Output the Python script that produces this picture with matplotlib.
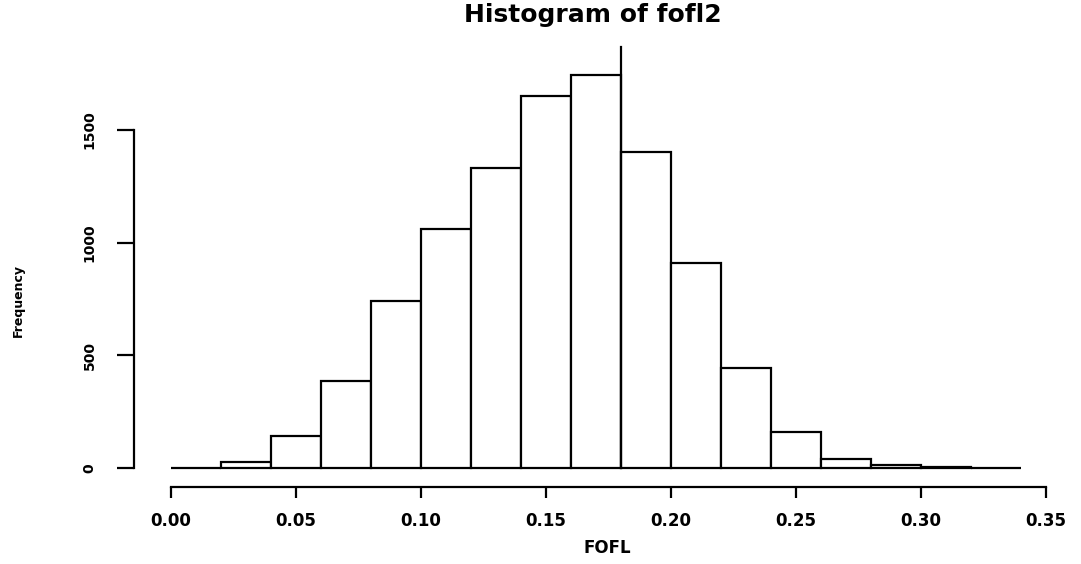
import numpy as np
import matplotlib
matplotlib.use("Agg")
import matplotlib.pyplot as plt

# histogram bins (0.02 wide) and counts
bin_edges = [0.00, 0.02, 0.04, 0.06, 0.08, 0.10, 0.12, 0.14, 0.16, 0.18,
             0.20, 0.22, 0.24, 0.26, 0.28, 0.30, 0.32, 0.34]
counts = [1, 28, 142, 385, 740, 1061, 1333, 1651, 1744, 1401,
          908, 444, 161, 38, 12, 3, 1]
x_ticks = [0.00, 0.05, 0.10, 0.15, 0.20, 0.25, 0.30, 0.35]
x_ticklabels = ["0.00", "0.05", "0.10", "0.15", "0.20", "0.25", "0.30", "0.35"]
y_ticks = [0, 500, 1000, 1500]
y_ticklabels = ["0", "500", "1000", "1500"]
# stray vertical stroke at the 0.18 bin edge
stroke_x = 0.18
stroke_top = 1869

fig = plt.figure(figsize=(10.81, 5.64), dpi=100)
ax = fig.add_axes([0.1388, 0.1702, 0.8418, 0.7589])

edges = np.array(bin_edges)
ax.bar(edges[:-1], counts, width=np.diff(edges), align="edge",
       color="white", edgecolor="black", linewidth=1.6, clip_on=False)
ax.plot([stroke_x, stroke_x], [0, stroke_top], color="black", linewidth=1.6,
        clip_on=False)

ax.set_xlim(-0.0084, 0.3556)
ax.set_ylim(0, 1900)

for side in ["top", "right"]:
    ax.spines[side].set_visible(False)
ax.spines["left"].set_position(("outward", 11.5))
ax.spines["bottom"].set_position(("outward", 13.7))
ax.spines["left"].set_bounds(0, 1500)
ax.spines["bottom"].set_bounds(0, 0.35)
ax.spines["left"].set_linewidth(1.6)
ax.spines["bottom"].set_linewidth(1.6)

ax.set_xticks(x_ticks)
ax.set_xticklabels(x_ticklabels, fontsize=12, fontweight="bold")
ax.set_yticks(y_ticks)
ax.set_yticklabels(y_ticklabels, fontsize=10, fontweight="bold",
                   rotation=90, va="center")
ax.tick_params(axis="x", length=8, width=1.6, pad=10)
ax.tick_params(axis="y", length=12, width=1.6, pad=15)

ax.set_xlabel("FOFL", fontsize=12, fontweight="bold")
ax.xaxis.set_label_coords(0.503, -0.187)
ax.xaxis.label.set_va("center")
ax.set_ylabel("Frequency", fontsize=9, fontweight="bold")
ax.yaxis.set_label_coords(-0.145, 0.3925)
ax.yaxis.label.set_va("center")
fig.text(593 / 1081, 1 - 15 / 564, "Histogram of fofl2", ha="center",
         va="center", fontsize=18, fontweight="bold")

fig.savefig("out.png", dpi=100)
